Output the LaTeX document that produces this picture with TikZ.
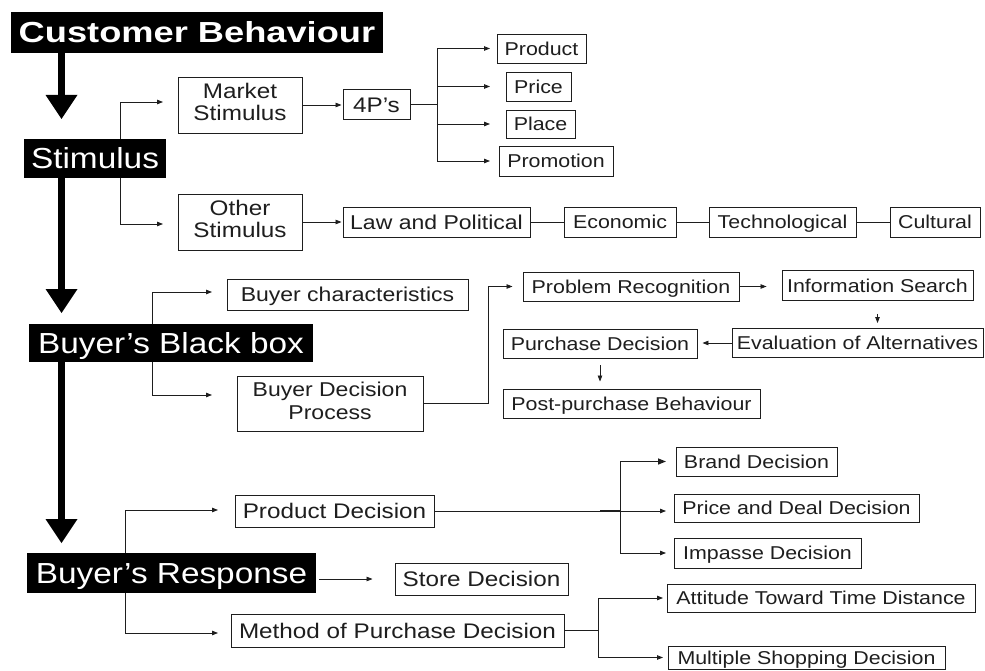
\documentclass[tikz,border=0pt]{standalone}
\usepackage{fontspec}
\usepackage{graphicx}
\setmainfont{Liberation Sans}
\usetikzlibrary{arrows.meta}
\definecolor{ink}{HTML}{1E1E1E}

% horizontally widened text
\newcommand\tx[2][1.15]{\scalebox{#1}[1]{#2}}
\newcommand\two[2]{\tx{\begin{tabular}{@{}c@{}}#1\\#2\end{tabular}}}

\tikzset{
  wh/.style 2 args={minimum width=#1pt, minimum height=#2pt},
  box/.style={draw=ink, line width=0.9pt, inner sep=0pt, text=ink, fill=white},
  headbox/.style={fill=black, text=white, inner sep=0pt, font=\fontsize{29}{34}\selectfont,
    text height=20.8pt, text depth=0pt},
  % single-line sizes: capitals centred in the box
  fs/.style={font=\fontsize{18.6}{22}\selectfont, text height=13.3pt, text depth=0pt},
  fm/.style={font=\fontsize{20}{23}\selectfont, text height=14.3pt, text depth=0pt},
  fl/.style={font=\fontsize{21.1}{22.5}\selectfont, text height=15.1pt, text depth=0pt},
  % two-line sizes
  fmtwo/.style={font=\fontsize{20}{23}\selectfont},
  fltwo/.style={font=\fontsize{21.1}{22.5}\selectfont},
  link/.style={draw=ink, line width=0.8pt},
  arr/.style={link, -{Triangle[length=6pt 0,width=4.5pt 0]}},
  bigarrow/.style={draw=black, line width=7pt, -{Triangle[length=24pt 0,width=32pt 0,line width=0pt]}},
}

\begin{document}
\begin{tikzpicture}[x=1pt, y=-1pt]
\useasboundingbox[fill=white] (0,0) rectangle (985,671);

% main stages
\node[headbox, wh={372}{41}] (cb) at (197,32.5) {\tx[1.25]{\bfseries Customer Behaviour}};
\node[headbox, wh={142}{39}] (stim) at (95,158.5) {\tx{Stimulus}};
\node[headbox, wh={284}{38}] (bbb) at (171,343) {\tx{Buyer’s Black box}};
\node[headbox, wh={289}{40}] (resp) at (171.5,573) {\tx{Buyer’s Response}};

\coordinate (tip1) at (61.5,119);
\coordinate (tip2) at (61.5,313);
\coordinate (tip3) at (61.5,543);
\draw[bigarrow] (cb.south -| tip1) -- (tip1);
\draw[bigarrow] (stim.south -| tip2) -- (tip2);
\draw[bigarrow] (bbb.south -| tip3) -- (tip3);

% stimulus
\node[box, fltwo, wh={124}{56}] (market) at (240,105) {\two{Market}{Stimulus}};
\node[box, fltwo, wh={124}{56}] (other) at (240,222) {\two{Other}{Stimulus}};
\node[box, fl, wh={67}{30}] (fourp) at (376.5,104.5) {\tx{4P’s}};
\node[box, fs, wh={89}{29}] (product) at (541.5,48.5) {\tx{Product}};
\node[box, fs, wh={65}{29}] (price) at (538.5,86.5) {\tx{Price}};
\node[box, fs, wh={69}{28}] (place) at (540.5,124) {\tx{Place}};
\node[box, fs, wh={114}{30}] (promo) at (556,161) {\tx{Promotion}};
\node[box, fm, wh={187}{30}] (law) at (436.5,222) {\tx{Law and Political}};
\node[box, fs, wh={112}{30}] (econ) at (620,222) {\tx{Economic}};
\node[box, fs, wh={147}{30}] (tech) at (782.5,222) {\tx{Technological}};
\node[box, fs, wh={90}{30}] (cult) at (935,222) {\tx{Cultural}};

\coordinate (js) at (120,0);
\coordinate (mkin) at (163,102);
\coordinate (otin) at (163,224);
\draw[arr] (js |- stim.north) |- (mkin);
\draw[arr] (js |- stim.south) |- (otin);
\draw[arr, shorten >=1pt] (market.east) -- (market.east -| fourp.west);
\draw[arr, shorten >=1pt] (other.east) -- (other.east -| law.west);

\coordinate (j4) at (437,0);
\coordinate (t4) at (490,0);
\draw[link] (fourp.east) -- (fourp.east -| j4);
\draw[link] (j4 |- product) -- (j4 |- promo);
\foreach \n in {product,price,place,promo}
  \draw[arr] (j4 |- \n) -- (t4 |- \n);
\draw[link] (law) -- (econ) (econ) -- (tech) (tech) -- (cult);

% black box
\node[box, fm, wh={241}{31}] (bchar) at (347.5,294.5) {\tx{Buyer characteristics}};
\node[box, fmtwo, wh={186}{55}] (bdp) at (330,403.5) {\two{Buyer Decision}{Process}};
\node[box, fs, wh={216}{29}] (pr) at (631,286.5) {\tx{Problem Recognition}};
\node[box, fs, wh={191}{30}] (is) at (877.5,285.5) {\tx{Information Search}};
\node[box, fs, wh={251}{29}] (eval) at (857.5,343) {\tx{Evaluation of Alternatives}};
\node[box, fs, wh={194}{29}] (pd) at (600,343.5) {\tx{Purchase Decision}};
\node[box, fs, wh={257}{29}] (post) at (631.5,403.5) {\tx{Post-purchase Behaviour}};

\coordinate (jb) at (152,0);
\coordinate (bcin) at (212,292);
\coordinate (bdin) at (212,395);
\draw[arr] (jb |- bbb.north) |- (bcin);
\draw[arr] (jb |- bbb.south) |- (bdin);
\coordinate (jp) at (488,0);
\draw[arr, shorten >=10pt] (bdp.east) -| (jp |- pr.west) -- (pr.west);
\draw[arr, shorten >=15pt] (pr.east) -- (pr.east -| is.west);
\draw[arr, shorten <=13pt, shorten >=5pt] (is.south) -- (is.south |- eval.north);
\draw[arr, shorten >=5pt] (eval.west) -- (eval.west -| pd.east);
\draw[arr, shorten <=7pt, shorten >=7pt] (pd.south) -- (pd.south |- post.north);

% response
\node[box, fl, wh={199}{32}] (prodd) at (334.5,511) {\tx{Product Decision}};
\node[box, fl, wh={173}{32}] (store) at (481.5,579) {\tx{Store Decision}};
\node[box, fl, wh={333}{33}] (mpd) at (397.5,630.5) {\tx{Method of Purchase Decision}};
\node[box, fs, wh={161}{29}] (brand) at (756.5,461.5) {\tx{Brand Decision}};
\node[box, fs, wh={245}{28}] (pdd) at (796.5,508) {\tx{Price and Deal Decision}};
\node[box, fs, wh={187}{30}] (impasse) at (767.5,553) {\tx{Impasse Decision}};
\node[box, fs, wh={308}{28}] (att) at (821,598) {\tx{Attitude Toward Time Distance}};
\node[box, fs, wh={277}{23}] (multi) at (806.5,657.5) {\tx{Multiple Shopping Decision}};

\coordinate (jr) at (125,0);
\coordinate (pdin) at (218,510);
\coordinate (mpin) at (218,633);
\draw[arr] (jr |- resp.north) |- (pdin);
\draw[arr] (jr |- resp.south) |- (mpin);
\draw[arr, shorten <=3pt, shorten >=22pt] (store.west -| resp.east) -- (store.west);

\coordinate (jd) at (620,0);
\coordinate (jd0) at (600,0);
\coordinate (td) at (666,0);
\draw[arr] (prodd.east) -- (prodd.east -| td);
\draw[draw=ink, line width=1.6pt] (prodd.east -| jd0) -- (prodd.east -| jd);
\draw[link] (jd |- brand) -- (jd |- impasse);
\draw[link, line width=1.4pt, -{Triangle[length=8pt 0,width=6pt 0]}] (jd |- brand) -- (td |- brand);
\draw[arr] (jd |- impasse) -- (td |- impasse);

\coordinate (jm) at (598,0);
\coordinate (tm) at (663,0);
\draw[link] (mpd.east) -- (mpd.east -| jm);
\draw[link] (jm |- att) -- (jm |- multi);
\draw[arr] (jm |- att) -- (tm |- att);
\draw[arr] (jm |- multi) -- (tm |- multi);
\end{tikzpicture}
\end{document}
